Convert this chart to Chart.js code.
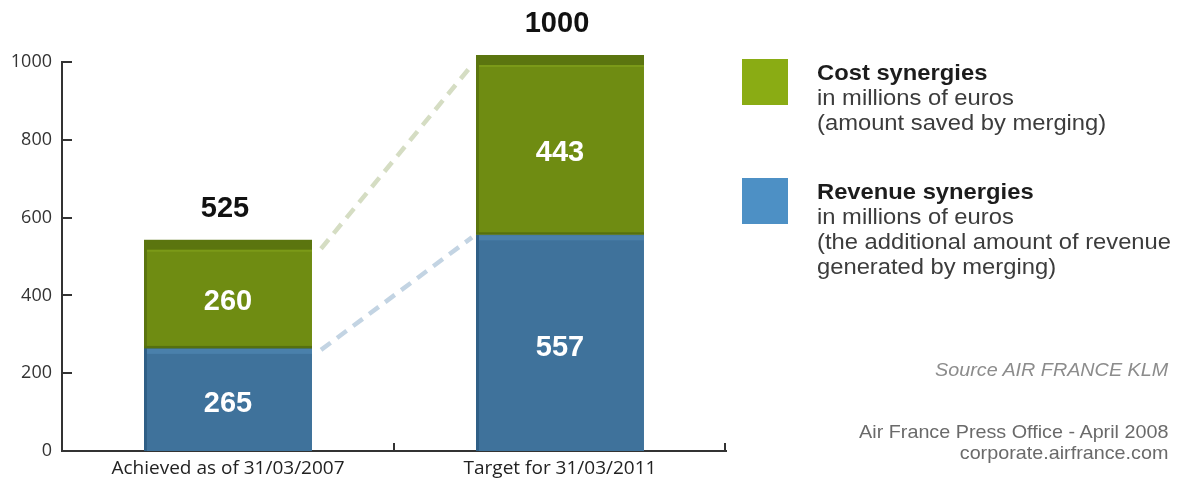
<!DOCTYPE html>
<html>
<head>
<meta charset="utf-8">
<script src="https://cdn.jsdelivr.net/npm/chart.js@4/dist/chart.umd.min.js"></script>
<style>
html,body{margin:0;padding:0;background:#fff;}
#wrap{position:relative;width:1179px;height:484px;overflow:hidden;}
#c{position:absolute;left:0;top:0;}
.sw{position:absolute;left:742px;width:46px;height:46px;}
.leg{position:absolute;left:817px;font-family:"Liberation Sans",Arial,sans-serif;font-size:22px;line-height:25px;color:#3c3c3c;white-space:nowrap;transform:scaleX(1.08);transform-origin:0 0;}
.leg b{color:#1c1c1c;}
.src{position:absolute;right:11px;font-family:"Liberation Sans",Arial,sans-serif;font-size:19px;text-align:right;white-space:nowrap;transform:scaleX(1.04);transform-origin:100% 0;}
</style>
</head>
<body>
<div id="wrap">
<canvas id="c" width="1179" height="484"></canvas>
<div class="sw" style="top:59px;background:#8aac14;"></div>
<div class="leg" style="top:60px;"><b>Cost synergies</b><br>in millions of euros<br>(amount saved by merging)</div>
<div class="sw" style="top:178px;background:#4d90c5;"></div>
<div class="leg" style="top:179px;"><b>Revenue synergies</b><br>in millions of euros<br>(the additional amount of revenue<br>generated by merging)</div>
<div class="src" style="top:359px;color:#8c8c8c;font-style:italic;">Source AIR FRANCE KLM</div>
<div class="src" style="top:421px;color:#6a6a6a;line-height:21px;">Air France Press Office - April 2008<br>corporate.airfrance.com</div>
</div>
<script>
const categories = ["Achieved as of 31/03/2007", "Target for 31/03/2011"];
const revenueSynergies = [265, 557];
const costSynergies = [260, 443];
const totals = [525, 1000];
const yTicks = [0, 200, 400, 600, 800, 1000];

const connectorPlugin = {
  id: 'connectors',
  beforeDatasetsDraw(chart) {
    const ctx = chart.ctx;
    const colors = ['#c3d4e3', '#d5ddc3'];
    ctx.save();
    ctx.lineWidth = 4.5;
    ctx.setLineDash([12, 8]);
    [0, 1].forEach(i => {
      const meta = chart.getDatasetMeta(i);
      const a = meta.data[0], b = meta.data[1];
      const x0 = a.x + a.width / 2 + 9, y0 = a.y + 2;
      const x1 = b.x - b.width / 2 - 4, y1 = b.y + 3;
      ctx.strokeStyle = colors[i];
      ctx.beginPath();
      ctx.moveTo(x0, y0);
      ctx.lineTo(x1, y1);
      ctx.stroke();
    });
    ctx.restore();
  }
};

const capPlugin = {
  id: 'caps',
  afterDatasetsDraw(chart) {
    const ctx = chart.ctx;
    ctx.save();
    chart.getDatasetMeta(0).data.forEach(el => {
      const l = el.x - el.width / 2;
      ctx.fillStyle = '#4a80ab';
      ctx.fillRect(l + 3, el.y + 1, el.width - 3, 5);
      ctx.fillStyle = '#55700f';
      ctx.fillRect(l, el.y - 2, el.width, 2.5);
    });
    chart.getDatasetMeta(1).data.forEach(el => {
      const l = el.x - el.width / 2;
      ctx.fillStyle = '#5b750f';
      ctx.fillRect(l, el.y - 7, el.width, 10);
      ctx.fillStyle = '#7b9a18';
      ctx.fillRect(l + 3, el.y + 3, el.width - 3, 2);
    });
    ctx.restore();
  }
};

const labelPlugin = {
  id: 'labels',
  afterDatasetsDraw(chart) {
    const ctx = chart.ctx;
    ctx.save();
    ctx.textAlign = 'center';
    ctx.textBaseline = 'middle';
    ctx.font = 'bold 29px "Liberation Sans", Arial, sans-serif';
    chart.data.datasets.forEach((ds, i) => {
      const meta = chart.getDatasetMeta(i);
      meta.data.forEach((el, j) => {
        ctx.fillStyle = '#ffffff';
        ctx.fillText(String(ds.data[j]), el.x, (el.y + el.base) / 2 + 5);
      });
    });
    const topMeta = chart.getDatasetMeta(1);
    topMeta.data.forEach((el, j) => {
      ctx.fillStyle = '#111111';
      ctx.fillText(String(totals[j]), el.x - 3, el.y - 38);
    });
    ctx.restore();
  }
};

const tickPlugin = {
  id: 'innerTicks',
  afterDraw(chart) {
    const ctx = chart.ctx;
    const x = chart.scales.x, y = chart.scales.y;
    ctx.save();
    ctx.strokeStyle = '#333333';
    ctx.lineWidth = 2;
    ctx.beginPath();
    yTicks.forEach(v => {
      const py = Math.round(y.getPixelForValue(v));
      if (v === 0) return;
      ctx.moveTo(x.left, py);
      ctx.lineTo(x.left + 10, py);
    });
    const mid = (x.getPixelForValue(0) + x.getPixelForValue(1)) / 2;
    [mid, x.right - 1].forEach(px => {
      ctx.moveTo(px, y.bottom);
      ctx.lineTo(px, y.bottom - 8);
    });
    ctx.stroke();
    ctx.restore();
  }
};

new Chart(document.getElementById('c'), {
  type: 'bar',
  data: {
    labels: categories,
    datasets: [
      {
        label: 'Revenue synergies',
        data: revenueSynergies,
        backgroundColor: '#3f729b',
        borderColor: '#2f5f86',
        borderWidth: {top: 0, right: 0, bottom: 0, left: 3},
        borderSkipped: false,
        barPercentage: 0.506,
        categoryPercentage: 1
      },
      {
        label: 'Cost synergies',
        data: costSynergies,
        backgroundColor: '#6f8c12',
        borderColor: '#5b750f',
        borderWidth: {top: 0, right: 0, bottom: 0, left: 3},
        borderSkipped: false,
        barPercentage: 0.506,
        categoryPercentage: 1
      }
    ]
  },
  options: {
    responsive: false,
    animation: false,
    layout: {padding: {top: 62, right: 453, bottom: 0, left: 0}},
    plugins: {legend: {display: false}, tooltip: {enabled: false}},
    scales: {
      x: {
        stacked: true,
        offset: true,
        grid: {display: false, drawTicks: false},
        border: {display: true, color: '#333333', width: 2},
        ticks: {font: {family: '"Open Sans"', size: 19}, color: '#222222', padding: 6},
        afterFit(s) { s.height = 33; }
      },
      y: {
        stacked: true,
        min: 0,
        max: 1000,
        afterBuildTicks(s) { s.ticks = yTicks.map(v => ({value: v})); },
        grid: {display: false, drawTicks: false},
        border: {display: true, color: '#333333', width: 2},
        ticks: {font: {family: '"Open Sans"', size: 18}, color: '#333333', padding: 10, callback: v => String(v)},
        afterFit(s) { s.width = 62; }
      }
    }
  },
  plugins: [connectorPlugin, capPlugin, labelPlugin, tickPlugin]
});
</script>
</body>
</html>
